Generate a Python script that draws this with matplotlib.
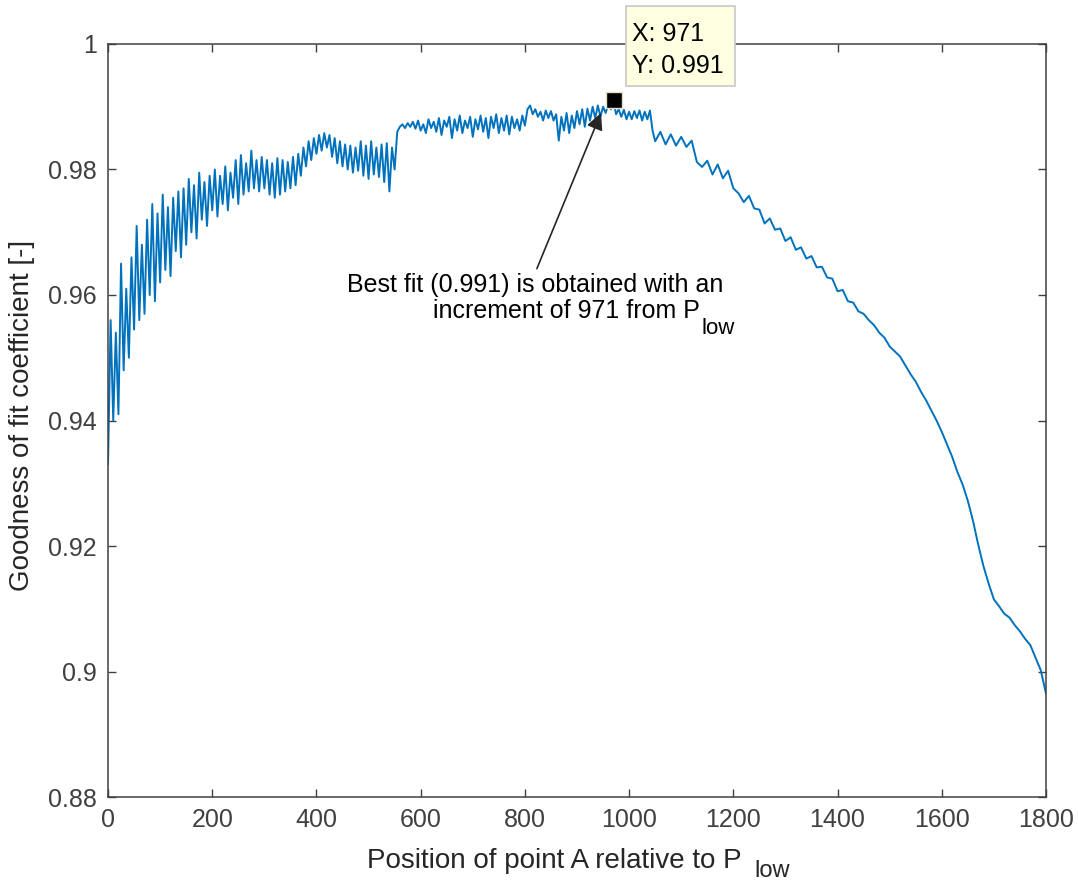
import numpy as np
import matplotlib
matplotlib.use('Agg')
import matplotlib.pyplot as plt
from matplotlib.patches import Rectangle

# goodness of fit vs. position of point A
# noisy part sampled every 5, the smoother decline every 10
pos_head = list(range(0, 1051, 5))
fit_head = [0.9330, 0.9560, 0.9400, 0.9540, 0.9410, 0.9650, 0.9480, 0.9610, 0.9500, 0.9660,
            0.9545, 0.9710, 0.9560, 0.9680, 0.9570, 0.9720, 0.9600, 0.9745, 0.9590, 0.9730,
            0.9620, 0.9760, 0.9640, 0.9740, 0.9630, 0.9755, 0.9670, 0.9765, 0.9660, 0.9770,
            0.9680, 0.9785, 0.9700, 0.9775, 0.9690, 0.9795, 0.9720, 0.9780, 0.9710, 0.9790,
            0.9735, 0.9800, 0.9725, 0.9790, 0.9745, 0.9805, 0.9735, 0.9795, 0.9755, 0.9815,
            0.9745, 0.9823, 0.9760, 0.9810, 0.9765, 0.9830, 0.9770, 0.9815, 0.9765, 0.9820,
            0.9770, 0.9815, 0.9760, 0.9810, 0.9755, 0.9818, 0.9760, 0.9815, 0.9765, 0.9812,
            0.9770, 0.9820, 0.9775, 0.9825, 0.9790, 0.9835, 0.9805, 0.9845, 0.9815, 0.9850,
            0.9825, 0.9855, 0.9830, 0.9858, 0.9835, 0.9855, 0.9820, 0.9850, 0.9810, 0.9845,
            0.9805, 0.9840, 0.9800, 0.9838, 0.9795, 0.9835, 0.9798, 0.9845, 0.9790, 0.9838,
            0.9785, 0.9845, 0.9792, 0.9835, 0.9788, 0.9840, 0.9780, 0.9842, 0.9765, 0.9835,
            0.9800, 0.9860, 0.9868, 0.9872, 0.9866, 0.9874, 0.9868, 0.9876, 0.9865, 0.9878,
            0.9862,
            0.9872, 0.9858, 0.9880, 0.9866, 0.9876, 0.9860, 0.9882, 0.9855, 0.9878, 0.9868,
            0.9884, 0.9850, 0.9880, 0.9862, 0.9886, 0.9858, 0.9878, 0.9866, 0.9884, 0.9852,
            0.9880, 0.9864, 0.9886, 0.9860, 0.9882, 0.9850, 0.9884, 0.9866, 0.9888, 0.9858,
            0.9882, 0.9862, 0.9886, 0.9856, 0.9884, 0.9866, 0.9880, 0.9862, 0.9886, 0.9870,
            0.9896, 0.9902, 0.9888, 0.9896, 0.9884, 0.9892, 0.9878, 0.9894, 0.9882, 0.9893,
            0.9878, 0.9888, 0.9846, 0.9884, 0.9862, 0.9890, 0.9858, 0.9886, 0.9866, 0.9893,
            0.9872, 0.9896, 0.9868, 0.9897, 0.9878, 0.9900, 0.9882, 0.9902, 0.9884, 0.9900,
            0.9890, 0.9904, 0.9896, 0.9908, 0.9888, 0.9896, 0.9884, 0.9895, 0.9880, 0.9892,
            0.9880, 0.9893, 0.9882, 0.9894, 0.9878, 0.9892, 0.9880, 0.9894, 0.9862, 0.9845]

pos_tail = list(range(1060, 1801, 10))
fit_tail = [0.9860, 0.9840, 0.9856, 0.9838, 0.9852,
            0.9836, 0.9846, 0.9812, 0.9804, 0.9814, 0.9792, 0.9808, 0.9786, 0.9798, 0.9770,
            0.9762, 0.9748, 0.9758, 0.9738, 0.9736, 0.9714, 0.9722, 0.9704, 0.9706, 0.9686,
            0.9692, 0.9672, 0.9676, 0.9658, 0.9662, 0.9644, 0.9645, 0.9628, 0.9626, 0.9606,
            0.9608, 0.9590, 0.9588, 0.9574, 0.9570, 0.9560, 0.9552, 0.9540, 0.9532, 0.9518,
            0.9510, 0.9502, 0.9488, 0.9474, 0.9462, 0.9446, 0.9432, 0.9416, 0.9400, 0.9382,
            0.9362, 0.9342, 0.9318, 0.9298, 0.9272, 0.9240, 0.9202, 0.9168, 0.9140, 0.9115,
            0.9104, 0.9092, 0.9086, 0.9074, 0.9064, 0.9052, 0.9042, 0.9022, 0.9002, 0.8965]

best_x = 971
best_y = 0.991

x_ticks = [0, 200, 400, 600, 800, 1000, 1200, 1400, 1600, 1800]
y_ticks = [0.88, 0.9, 0.92, 0.94, 0.96, 0.98, 1.0]
y_tick_labels = ['0.88', '0.9', '0.92', '0.94', '0.96', '0.98', '1']

pos = np.array(pos_head + pos_tail)
fit = np.array(fit_head + fit_tail)

plt.rcParams['font.family'] = ['Liberation Sans', 'DejaVu Sans']
plt.rcParams['font.size'] = 18

axcol = '#404040'
fig = plt.figure(figsize=(10.78, 8.85), dpi=100)
ax = fig.add_axes([0.1002, 0.0994, 0.8701, 0.8509])

ax.plot(pos, fit, color='#0072BD', lw=1.4)
ax.plot([best_x], [best_y], 's', color='black', markersize=12,
        markeredgecolor='#e8e0c0', markeredgewidth=1, zorder=5)

ax.set_xlim(0, 1800)
ax.set_ylim(0.88, 1.0)
ax.set_xticks(x_ticks)
ax.set_yticks(y_ticks)
ax.set_yticklabels(y_tick_labels)

ax.tick_params(direction='in', length=6, width=1, colors=axcol,
               top=True, right=True, pad=8, labelsize=18)
for s in ax.spines.values():
    s.set_color(axcol)
    s.set_linewidth(1.1)

# labels are a bit bigger than tick labels (matlab style)
fig.text(0.0204, 0.531, 'Goodness of fit coefficient [-]', rotation=90, ha='center', va='center',
         color='#262626', fontsize=20)
fig.text(0.514, 0.0192, 'Position of point A relative to P', ha='center', va='baseline',
         color='#262626', fontsize=20)
fig.text(0.716, 0.009, 'low', ha='center', va='baseline', color='#262626', fontsize=17)

# arrow + annotation text
ax.annotate('', xy=(946, 0.9890), xytext=(823, 0.9642),
            arrowprops=dict(arrowstyle='-|>', color='#262626', lw=1.2,
                            mutation_scale=25, shrinkA=0, shrinkB=0))
ax.text(820, 0.9616, 'Best fit (0.991) is obtained with an', ha='center', va='center',
        fontsize=18, color='black')
ax.text(1136, 0.9574, 'increment of 971 from P', ha='right', va='center',
        fontsize=18, color='black')
ax.text(1138, 0.9546, 'low', ha='left', va='center', fontsize=16, color='black')

# data tip box
fig.add_artist(Rectangle((626 / 1078, 1 - 86 / 885), 109 / 1078, 80 / 885,
                         transform=fig.transFigure, facecolor='#ffffe1',
                         edgecolor='#c8c8c8', lw=1.2, zorder=6))
fig.text(632 / 1078, 1 - 34 / 885, 'X: 971', ha='left', va='center', fontsize=18,
         color='black', zorder=7)
fig.text(632 / 1078, 1 - 66 / 885, 'Y: 0.991', ha='left', va='center', fontsize=18,
         color='black', zorder=7)

plt.savefig('out.png', dpi=100)
